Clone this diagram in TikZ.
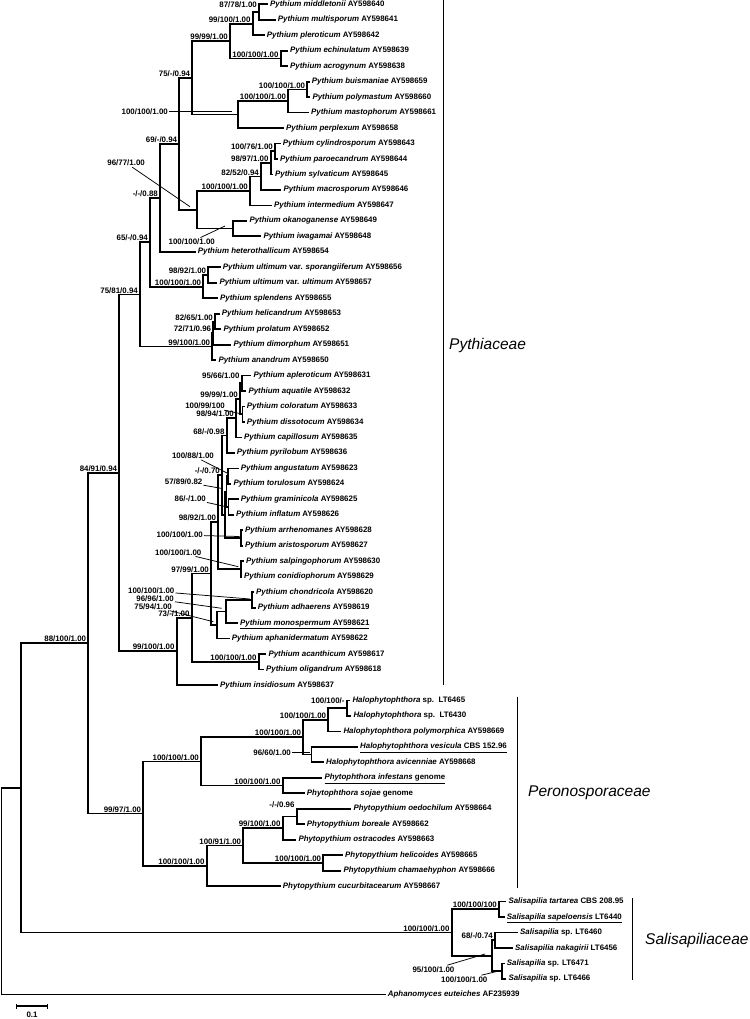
\documentclass[tikz,border=0pt]{standalone}
\usepackage{fontspec}
\setmainfont{Liberation Sans}
\newcommand{\taxfont}{\fontsize{7.9}{9}\selectfont\bfseries}
\newcommand{\famfont}{\fontsize{15.5}{18}\selectfont\itshape}
\tikzset{
  branch/.style={line width=1.75pt, line cap=rect},
  lead/.style={line width=0.75pt},
  famline/.style={line width=1.1pt},
  taxon/.style={anchor=west, inner xsep=3pt, inner ysep=0pt, text height=5.8pt, text depth=1.7pt, font=\taxfont},
  bs/.style={anchor=south east, inner sep=1pt, xshift=-1pt, font=\taxfont},
  ptr/.style={anchor=east, inner sep=1pt, font=\taxfont},
  family/.style={anchor=west, inner sep=0pt, font=\famfont}
}
\begin{document}
\begin{tikzpicture}[x=1pt,y=-1pt]
  \useasboundingbox (0,0) rectangle (749,1019);

  % internal nodes
  \coordinate (nroot) at (1.5,891.1);
  \coordinate (nBB) at (20.7,787.86);
  \coordinate (nAA) at (88.3,643.22);
  \coordinate (nY) at (119.3,472.86);
  \coordinate (nT) at (140,294.4);
  \coordinate (nQ) at (150,242.21);
  \coordinate (nP) at (160,197.8);
  \coordinate (nO) at (179.3,143.77);
  \coordinate (nE) at (192.3,77.78);
  \coordinate (nA) at (230,41.04);
  \coordinate (nB) at (252.7,23.64);
  \coordinate (nD) at (259,12.04);
  \coordinate (nC) at (280.7,58.45);
  \coordinate (nF) at (238.3,114.53);
  \coordinate (nG) at (288.3,101.0);
  \coordinate (nH) at (307.3,89.39);
  \coordinate (nI) at (196.7,209.76);
  \coordinate (nJ) at (250,190.91);
  \coordinate (nL) at (261,176.41);
  \coordinate (nM) at (270.7,162.87);
  \coordinate (nN) at (275,151.27);
  \coordinate (nK) at (233.3,228.62);
  \coordinate (nR) at (203.3,286.63);
  \coordinate (nS) at (208.3,275.03);
  \coordinate (nU) at (212.3,346.57);
  \coordinate (nW) at (213.3,333.04);
  \coordinate (nV) at (215,321.44);
  \coordinate (nZ) at (176.7,651.32);
  \coordinate (nAB) at (191.7,617.66);
  \coordinate (nAC) at (258.7,661.78);
  \coordinate (nAD) at (211,573.55);
  \coordinate (nAE) at (218.3,522.07);
  \coordinate (nX) at (222,475.17);
  \coordinate (nAQ) at (226.7,435.53);
  \coordinate (nAP) at (236,418.13);
  \coordinate (nAN) at (240,398.79);
  \coordinate (nAM) at (241.7,383.32);
  \coordinate (nAO) at (242.5,414.26);
  \coordinate (nY1) at (225,514.81);
  \coordinate (nY2) at (226.5,491.61);
  \coordinate (nAR) at (228,476.14);
  \coordinate (nAU) at (228.5,507.08);
  \coordinate (nAK) at (240.7,538.02);
  \coordinate (nAI) at (240.7,568.96);
  \coordinate (nAF) at (216.7,625.03);
  \coordinate (nAG) at (226,611.5);
  \coordinate (nAH) at (251.7,599.9);
  \coordinate (nPR) at (143.3,813.57);
  \coordinate (nHH) at (201,761.37);
  \coordinate (nJJ) at (303.3,737.2);
  \coordinate (nLL) at (328.3,719.79);
  \coordinate (nNN) at (346.7,708.19);
  \coordinate (nMM) at (311.5,754.6);
  \coordinate (nKK) at (282.7,785.54);
  \coordinate (nII) at (206.7,865.78);
  \coordinate (nOO) at (243.3,845.48);
  \coordinate (nPP) at (282.7,828.08);
  \coordinate (nRR) at (296.7,816.48);
  \coordinate (nQQ) at (323.3,863.09);
  \coordinate (nCC) at (451.7,932.5);
  \coordinate (nDD) at (499,909.3);
  \coordinate (nEE) at (491.7,955.71);
  \coordinate (nFF) at (495,940.24);
  \coordinate (nGG) at (502.3,971.18);

  % taxa
  \node[taxon] (l0) at (267,4.3) {{\itshape Pythium middletonii} AY598640};
  \node[taxon] (l1) at (274.7,19.77) {{\itshape Pythium multisporum} AY598641};
  \node[taxon] (l2) at (263.7,35.24) {{\itshape Pythium pleroticum} AY598642};
  \node[taxon] (l3) at (287,50.71) {{\itshape Pythium echinulatum} AY598639};
  \node[taxon] (l4) at (287,66.18) {{\itshape Pythium acrogynum} AY598638};
  \node[taxon] (l5) at (308.7,81.65) {{\itshape Pythium buismaniae} AY598659};
  \node[taxon] (l6) at (309.3,97.12) {{\itshape Pythium polymastum} AY598660};
  \node[taxon] (l7) at (308,112.59) {{\itshape Pythium mastophorum} AY598661};
  \node[taxon] (l8) at (283,128.06) {{\itshape Pythium perplexum} AY598658};
  \node[taxon] (l9) at (279.7,143.53) {{\itshape Pythium cylindrosporum} AY598643};
  \node[taxon] (l10) at (277,159.0) {{\itshape Pythium paroecandrum} AY598644};
  \node[taxon] (l11) at (272,174.47) {{\itshape Pythium sylvaticum} AY598645};
  \node[taxon] (l12) at (280.3,189.94) {{\itshape Pythium macrosporum} AY598646};
  \node[taxon] (l13) at (271,205.41) {{\itshape Pythium intermedium} AY598647};
  \node[taxon] (l14) at (246.3,220.88) {{\itshape Pythium okanoganense} AY598649};
  \node[taxon] (l15) at (260.3,236.35) {{\itshape Pythium iwagamai} AY598648};
  \node[taxon] (l16) at (194.7,251.82) {{\itshape Pythium heterothallicum} AY598654};
  \node[taxon] (l17) at (219.7,267.29) {{\itshape Pythium ultimum} var. {\itshape sporangiiferum} AY598656};
  \node[taxon] (l18) at (216.3,282.76) {{\itshape Pythium ultimum} var. {\itshape ultimum} AY598657};
  \node[taxon] (l19) at (217,298.23) {{\itshape Pythium splendens} AY598655};
  \node[taxon] (l20) at (218.7,313.7) {{\itshape Pythium helicandrum} AY598653};
  \node[taxon] (l21) at (220.3,329.17) {{\itshape Pythium prolatum} AY598652};
  \node[taxon] (l22) at (230.3,344.64) {{\itshape Pythium dimorphum} AY598651};
  \node[taxon] (l23) at (215.3,360.11) {{\itshape Pythium anandrum} AY598650};
  \node[taxon] (l24) at (250.3,375.58) {{\itshape Pythium apleroticum} AY598631};
  \node[taxon] (l25) at (245.3,391.05) {{\itshape Pythium aquatile} AY598632};
  \node[taxon] (l26) at (243.7,406.52) {{\itshape Pythium coloratum} AY598633};
  \node[taxon] (l27) at (243.7,421.99) {{\itshape Pythium dissotocum} AY598634};
  \node[taxon] (l28) at (241,437.46) {{\itshape Pythium capillosum} AY598635};
  \node[taxon] (l29) at (233.7,452.93) {{\itshape Pythium pyrilobum} AY598636};
  \node[taxon] (l30) at (237.7,468.4) {{\itshape Pythium angustatum} AY598623};
  \node[taxon] (l31) at (230.3,483.87) {{\itshape Pythium torulosum} AY598624};
  \node[taxon] (l32) at (237.7,499.34) {{\itshape Pythium graminicola} AY598625};
  \node[taxon] (l33) at (233,514.81) {{\itshape Pythium inflatum} AY598626};
  \node[taxon] (l34) at (242,530.28) {{\itshape Pythium arrhenomanes} AY598628};
  \node[taxon] (l35) at (242,545.75) {{\itshape Pythium aristosporum} AY598627};
  \node[taxon] (l36) at (243,561.22) {{\itshape Pythium salpingophorum} AY598630};
  \node[taxon] (l37) at (241,576.69) {{\itshape Pythium conidiophorum} AY598629};
  \node[taxon] (l38) at (253,592.16) {{\itshape Pythium chondricola} AY598620};
  \node[taxon] (l39) at (254.7,607.63) {{\itshape Pythium adhaerens} AY598619};
  \node[taxon] (l40) at (237,623.1) {\underline{{\itshape Pythium monospermum} AY598621}};
  \node[taxon] (l41) at (228.7,638.57) {{\itshape Pythium aphanidermatum} AY598622};
  \node[taxon] (l42) at (265.3,654.04) {{\itshape Pythium acanthicum} AY598617};
  \node[taxon] (l43) at (263,669.51) {{\itshape Pythium oligandrum} AY598618};
  \node[taxon] (l44) at (217,684.98) {{\itshape Pythium insidiosum} AY598637};
  \node[taxon] (l45) at (349.3,700.45) {{\itshape Halophytophthora} sp.\ \ LT6465};
  \node[taxon] (l46) at (350.3,715.92) {{\itshape Halophytophthora} sp.\ \ LT6430};
  \node[taxon] (l47) at (340.3,731.39) {{\itshape Halophytophthora polymorphica} AY598669};
  \node[taxon] (l48) at (357,746.86) {\underline{{\itshape Halophytophthora vesicula} CBS 152.96}};
  \node[taxon] (l49) at (323,762.33) {{\itshape Halophytophthora avicenniae} AY598668};
  \node[taxon] (l50) at (321.3,777.8) {\underline{{\itshape Phytophthora infestans} genome}};
  \node[taxon] (l51) at (303.7,793.27) {{\itshape Phytophthora sojae} genome};
  \node[taxon] (l52) at (350.3,808.74) {{\itshape Phytopythium oedochilum} AY598664};
  \node[taxon] (l53) at (303.7,824.21) {{\itshape Phytopythium boreale} AY598662};
  \node[taxon] (l54) at (295.3,839.68) {{\itshape Phytopythium ostracodes} AY598663};
  \node[taxon] (l55) at (342,855.15) {{\itshape Phytopythium helicoides} AY598665};
  \node[taxon] (l56) at (340.3,870.62) {{\itshape Phytopythium chamaehyphon} AY598666};
  \node[taxon] (l57) at (279.7,886.09) {{\itshape Phytopythium cucurbitacearum} AY598667};
  \node[taxon] (l58) at (505.3,901.56) {{\itshape Salisapilia tartarea} CBS 208.95};
  \node[taxon] (l59) at (503.7,917.03) {\underline{{\itshape Salisapilia sapeloensis} LT6440}};
  \node[taxon] (l60) at (517,932.5) {{\itshape Salisapilia} sp. LT6460};
  \node[taxon] (l61) at (512,947.97) {{\itshape Salisapilia nakagirii} LT6456};
  \node[taxon] (l62) at (503.7,963.44) {{\itshape Salisapilia} sp. LT6471};
  \node[taxon] (l63) at (505.3,978.91) {{\itshape Salisapilia} sp. LT6466};
  \node[taxon] (l64) at (384.7,994.38) {{\itshape Aphanomyces euteiches} AF235939};

  % branches
  \foreach \from/\to in {nroot/nBB,nroot/l64,nBB/nAA,nBB/nCC,nAA/nY,nAA/nPR,nY/nT,nY/nZ,
      nT/nQ,nT/nU,nQ/nP,nQ/nR,nP/nO,nP/l16,nO/nE,nO/nI,nE/nA,nE/nF,nA/nB,nA/nC,
      nB/nD,nB/l2,nD/l0,nD/l1,nC/l3,nC/l4,nF/nG,nF/l8,nG/nH,nG/l7,nH/l5,nH/l6,
      nI/nJ,nI/nK,nJ/nL,nJ/l13,nL/nM,nL/l12,nM/nN,nM/l11,nN/l9,nN/l10,nK/l14,nK/l15,
      nR/nS,nR/l19,nS/l17,nS/l18,nU/nW,nU/l23,nW/nV,nW/l22,nV/l20,nV/l21,
      nZ/nAB,nZ/l44,nAB/nAD,nAB/nAC,nAC/l42,nAC/l43,nAD/nAE,nAD/nAF,nAE/nX,nAE/nAI,
      nX/nAQ,nX/nY1,nAQ/nAP,nAQ/l29,nAP/nAN,nAP/l28,nAN/nAM,nAN/nAO,nAM/l24,nAM/l25,
      nAO/l26,nAO/l27,nY1/nY2,nY1/nAK,nY2/nAR,nY2/nAU,nAR/l30,nAR/l31,nAU/l32,nAU/l33,
      nAK/l34,nAK/l35,nAI/l36,nAI/l37,nAF/nAG,nAF/l41,nAG/nAH,nAG/l40,nAH/l38,nAH/l39,
      nPR/nHH,nPR/nII,nHH/nJJ,nHH/nKK,nJJ/nLL,nJJ/nMM,nLL/nNN,nLL/l47,nNN/l45,nNN/l46,
      nMM/l48,nMM/l49,nKK/l50,nKK/l51,nII/nOO,nII/l57,nOO/nPP,nOO/nQQ,nPP/nRR,nPP/l54,
      nRR/l52,nRR/l53,nQQ/l55,nQQ/l56,nCC/nDD,nCC/nEE,nDD/l58,nDD/l59,nEE/nFF,nEE/nGG,
      nFF/l60,nFF/l61,nGG/l62,nGG/l63}
    \draw[branch] (\from) |- (\to);

  % support values
  \node[bs] (sD) at ([yshift=3pt]nD) {87/78/1.00};
  \node[bs] (sB) at (nB) {99/100/1.00};
  \node[bs] (sA) at (nA) {99/99/1.00};
  \node[bs] (sC) at (nC) {100/100/1.00};
  \node[bs] (sE) at (nE) {75/-/0.94};
  \node[bs] (sH) at (nH) {100/100/1.00};
  \node[bs] (sG) at (nG) {100/100/1.00};
  \node[bs] (sO) at (nO) {69/-/0.94};
  \node[bs] (sN) at (nN) {100/76/1.00};
  \node[bs] (sM) at (nM) {98/97/1.00};
  \node[bs] (sL) at (nL) {82/52/0.94};
  \node[bs] (sJ) at (nJ) {100/100/1.00};
  \node[bs] (sP) at (nP) {-/-/0.88};
  \node[bs] (sQ) at (nQ) {65/-/0.94};
  \node[bs] (sS) at (nS) {98/92/1.00};
  \node[bs] (sR) at (nR) {100/100/1.00};
  \node[bs] (sT) at (nT) {75/81/0.94};
  \node[bs] (sV) at (nV) {82/65/1.00};
  \node[bs] (sW) at (nW) {72/71/0.96};
  \node[bs] (sU) at (nU) {99/100/1.00};
  \node[bs] (sAM) at ([yshift=3pt]nAM) {95/66/1.00};
  \node[bs] (sAN) at (nAN) {99/99/1.00};
  \node[bs] (sAP) at (nAP) {98/94/1.00};
  \node[bs] (sAQ) at (nAQ) {68/-/0.98};
  \node[bs] (sX) at (nX) {-/-/0.70};
  \node[bs] (sAE) at (nAE) {98/92/1.00};
  \node[bs] (sY) at (nY) {84/91/0.94};
  \node[bs] (sAD) at (nAD) {97/99/1.00};
  \node[bs] (sAB) at (nAB) {73/-/1.00};
  \node[bs] (sZ) at (nZ) {99/100/1.00};
  \node[bs] (sAC) at (nAC) {100/100/1.00};
  \node[bs] (sAA) at (nAA) {88/100/1.00};
  \node[bs] (sNN) at ([yshift=3pt]nNN) {100/100/-};
  \node[bs] (sLL) at (nLL) {100/100/1.00};
  \node[bs] (sJJ) at (nJJ) {100/100/1.00};
  \node[bs] (sHH) at (nHH) {100/100/1.00};
  \node[bs] (sKK) at (nKK) {100/100/1.00};
  \node[bs] (sPR) at (nPR) {99/97/1.00};
  \node[bs] (sRR) at ([yshift=8pt]nRR) {-/-/0.96};
  \node[bs] (sPP) at (nPP) {99/100/1.00};
  \node[bs] (sOO) at (nOO) {100/91/1.00};
  \node[bs] (sQQ) at (nQQ) {100/100/1.00};
  \node[bs] (sII) at (nII) {100/100/1.00};
  \node[bs] (sDD) at (nDD) {100/100/100};
  \node[bs] (sCC) at (nCC) {100/100/1.00};
  \node[bs] (sFF) at (nFF) {68/-/0.74};

  % support values with leader lines
  \node[ptr] (sF) at (169,111.7) {100/100/1.00};
  \node[ptr] (sI) at (146,163) {96/77/1.00};
  \node[ptr] (sK) at (216,241.7) {100/100/1.00};
  \node[ptr] (sAO) at (226,406) {100/99/100};
  \node[ptr] (sAR) at (215,455.7) {100/88/1.00};
  \node[ptr] (sY2) at (203.5,481.7) {57/89/0.82};
  \node[ptr] (sAU) at (207,498.7) {86/-/1.00};
  \node[ptr] (sAK) at (204,535) {100/100/1.00};
  \node[ptr] (sAI) at (202.5,552.3) {100/100/1.00};
  \node[ptr] (sAH) at (175.5,591) {100/100/1.00};
  \node[ptr] (sAG) at (175,599) {96/96/1.00};
  \node[ptr] (sAF) at (173,606.5) {75/94/1.00};
  \node[ptr] (sMM) at (292,752.3) {96/60/1.00};
  \node[ptr] (sEE) at (455.5,969.3) {95/100/1.00};
  \node[ptr] (sGG) at (488.5,979.3) {100/100/1.00};
  \coordinate (eF) at (232,111.7);
  \coordinate (eI) at (190,206.7);
  \coordinate (eK) at (225,226);
  \coordinate (eAO) at (242,414);
  \coordinate (eAR) at (229,474);
  \coordinate (eY2) at (222,488.5);
  \coordinate (eAU) at (226,506.7);
  \coordinate (eAK) at (239.5,536.5);
  \coordinate (eAI) at (238.3,566.7);
  \coordinate (eAH) at (250,599);
  \coordinate (eAG) at (221.7,608.3);
  \coordinate (eAF) at (213.3,621.7);
  \coordinate (eMM) at (309.5,752.3);
  \coordinate (eEE) at (485,954);
  \coordinate (eGG) at (500,970.7);
  \foreach \s in {F,I,K,AO,AR,Y2,AU,AK,AI,AH,AG,AF,MM,EE,GG}
    \draw[lead] (s\s) -- (e\s);

  % families
  \coordinate (fa1) at (443.8,0);
  \coordinate (fa2) at (443.8,685);
  \coordinate (fb1) at (517.3,696.7);
  \coordinate (fb2) at (517.3,888.3);
  \coordinate (fc1) at (632.7,898.3);
  \coordinate (fc2) at (632.7,980);
  \draw[famline] (fa1) -- (fa2);
  \draw[famline] (fb1) -- (fb2);
  \draw[famline] (fc1) -- (fc2);
  \node[family] (fPy) at (449,345) {Pythiaceae};
  \node[family] (fPe) at (528,793) {Peronosporaceae};
  \node[family] (fSa) at (645,940) {Salisapiliaceae};

  % scale bar
  \coordinate (sb1) at (16.7,1006);
  \coordinate (sb2) at (47.3,1006);
  \draw[branch, line cap=butt] (sb1) -- (sb2);
  \draw[lead] ([yshift=2.5pt]sb1) -- ([yshift=-2.5pt]sb1);
  \draw[lead] ([yshift=2.5pt]sb2) -- ([yshift=-2.5pt]sb2);
  \node[font=\taxfont, inner sep=0pt] (sbl) at (32,1015) {0.1};
\end{tikzpicture}
\end{document}
